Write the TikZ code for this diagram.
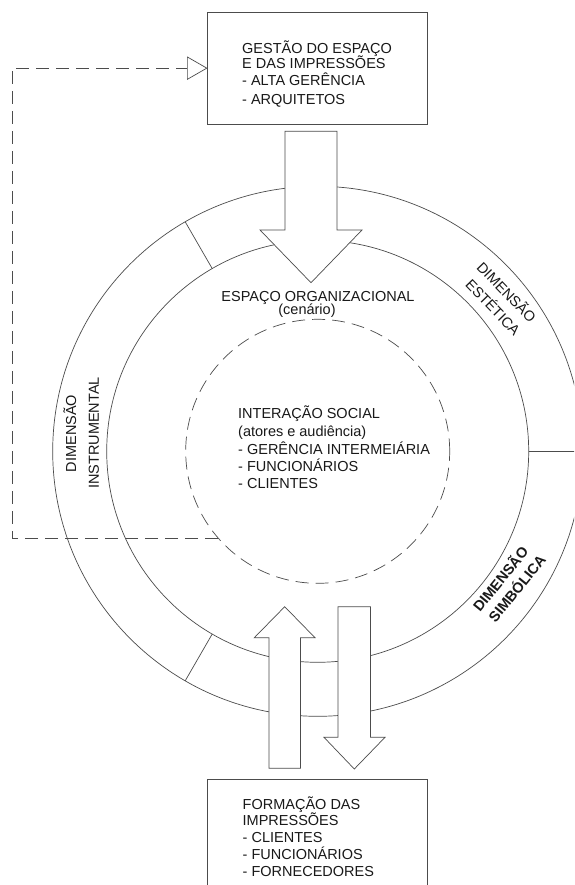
\documentclass[tikz,border=0pt]{standalone}
\usepackage{fontspec}
\setmainfont{Liberation Sans}
\usetikzlibrary{arrows.meta}
\begin{document}
\begin{tikzpicture}[x=1pt,y=-1pt,
  ln/.style={draw=black!70, line width=0.7pt},
  dsh/.style={ln, dash pattern=on 13pt off 7pt},
  ring/.style={circle, ln, inner sep=0pt, outer sep=0pt},
  box/.style={rectangle, ln, inner sep=0pt, outer sep=0pt},
  txt/.style={font=\fontsize{14.5}{17}\selectfont, inner sep=0pt, text=black!90},
  blockarrow/.style={ln, fill=white}]
\useasboundingbox (0,0) rectangle (574,885);
\fill[white] (0,0) rectangle (574,885);
\clip (0,0) rectangle (574,885);

\coordinate (c) at (317.7,451.3);
\node[ring, minimum size=530pt] (outer) at (c) {};
\node[ring, minimum size=422pt] (inner) at (c) {};
\node[ring, dsh, minimum size=264pt] (social) at (c) {};

% sector dividers
\draw[ln] (inner.120) -- (outer.120);
\draw[ln] (inner.240) -- (outer.240);
\draw[ln] (inner.0) -- (outer.0);

% boxes
\node[box, minimum width=219.5pt, minimum height=111.7pt] (top) at (317.25,68.15) {};
\node[box, minimum width=220pt, minimum height=130pt] (bottom) at (317.7,844) {};

% feedback dashed connector
\coordinate (fb) at (12,300);
\draw[dsh, -{Triangle[open, length=20.5pt, width=23.4pt, line width=0.7pt]}]
  (social.221.8) -- (social.221.8 -| fb) |- (top.west);

% block arrows
\draw[blockarrow] (285,131.3) -- (337,131.3) -- (337,230) -- (362,230) -- (311,282.7) -- (260,230) -- (285,230) -- cycle;
\draw[blockarrow] (269,768.3) -- (269,637.7) -- (254.3,637.7) -- (284.7,606.7) -- (315,637.7) -- (300.5,637.7) -- (300.5,768.3) -- cycle;
\draw[blockarrow] (338,606.7) -- (370.5,606.7) -- (370.5,737.3) -- (385,737.3) -- (354.3,769) -- (324,737.3) -- (338,737.3) -- cycle;

% top box text
\node[txt, anchor=base west] (t1) at (242,53.3) {GESTÃO DO ESPAÇO};
\node[txt, anchor=base west] (t2) at (242,69) {E DAS IMPRESSÕES};
\node[txt, anchor=base west] (t3) at (242,86) {- ALTA GERÊNCIA};
\node[txt, anchor=base west] (t4) at (242,104.3) {- ARQUITETOS};

% bottom box text
\node[txt, anchor=base west] (b1) at (242.5,809.3) {FORMAÇÃO DAS};
\node[txt, anchor=base west] (b2) at (242.5,825.5) {IMPRESSÕES};
\node[txt, anchor=base west] (b3) at (242.5,842.3) {- CLIENTES};
\node[txt, anchor=base west] (b4) at (242.5,859.5) {- FUNCIONÁRIOS};
\node[txt, anchor=base west] (b5) at (242.5,876) {- FORNECEDORES};

% organizational space
\node[txt, anchor=base] (e1) at (318,301) {ESPAÇO ORGANIZACIONAL};
\node[txt, anchor=base] (e2) at (307,314) {(cenário)};

% social interaction
\node[txt, anchor=base west] (s1) at (238,418.8) {INTERAÇÃO SOCIAL};
\node[txt, anchor=base west] (s2) at (238,436) {(atores e audiência)};
\node[txt, anchor=base west] (s3) at (238,454) {- GERÊNCIA INTERMEIÁRIA};
\node[txt, anchor=base west] (s4) at (238,471) {- FUNCIONÁRIOS};
\node[txt, anchor=base west] (s5) at (238,488.5) {- CLIENTES};

% ring labels
\node[txt, anchor=base, rotate=90] (d1) at (76.2,433.5) {DIMENSÃO};
\node[txt, anchor=base, rotate=90] (d2) at (98.9,433) {INSTRUMENTAL};
\node[txt, anchor=base, rotate=-46] (d3) at (502.8,296.1) {DIMENSÃO};
\node[txt, anchor=base, rotate=-46] (d4) at (489.3,311.1) {ESTÉTICA};
\node[txt, anchor=base west, rotate=51, font=\fontsize{14.5}{17}\selectfont\bfseries] (d5) at (480,613) {DIMENSÃO};
\node[txt, anchor=base west, rotate=51, font=\fontsize{14.5}{17}\selectfont\bfseries] (d6) at (495.5,623.5) {SIMBÓLICA};
\end{tikzpicture}
\end{document}
